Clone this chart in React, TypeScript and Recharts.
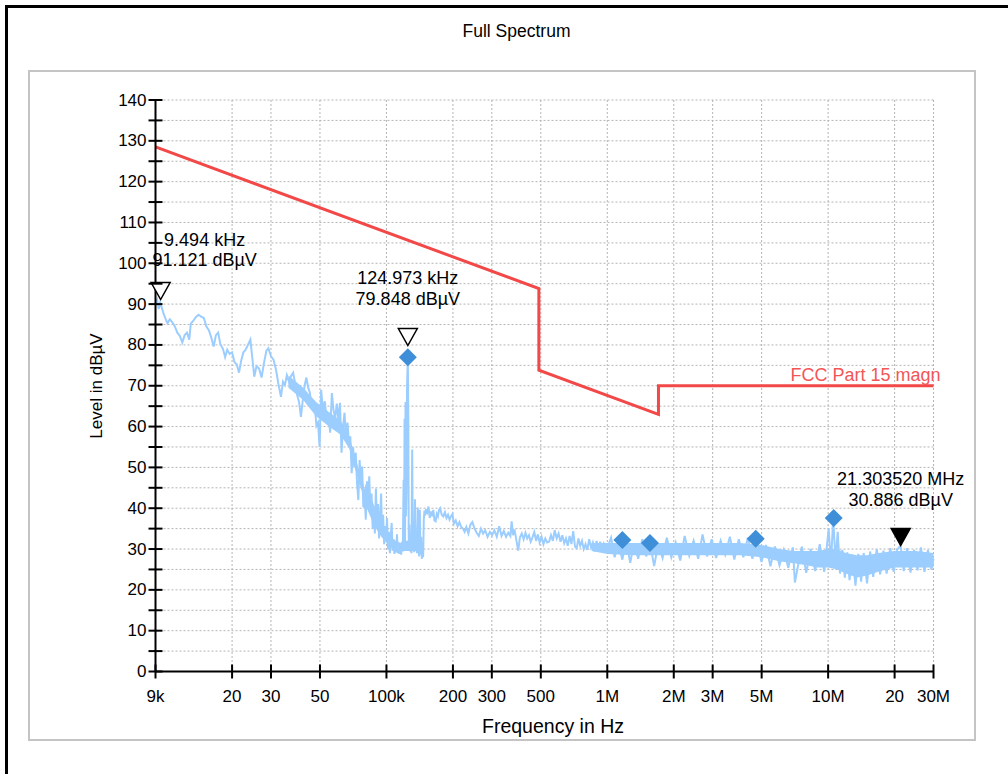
import React from 'react';
import { Area, CartesianGrid, ComposedChart, Line, Scatter, XAxis, YAxis } from 'recharts';

const FONT = '"Liberation Sans", Arial, Helvetica, sans-serif';
const TRACE_BLUE = '#9ccdff';
const LIMIT_RED = '#f24848';
const DIAMOND_BLUE = '#3f8fd8';

// axis ticks (Hz / dBµV)
const X_TICKS = [9e3, 2e4, 3e4, 5e4, 1e5, 2e5, 3e5, 5e5, 1e6, 2e6, 3e6, 5e6, 1e7, 2e7, 3e7];
const X_TICK_LABELS = ['9k', '20', '30', '50', '100k', '200', '300', '500', '1M', '2M', '3M', '5M', '10M', '20', '30M'];
const Y_TICKS = [0, 5, 10, 15, 20, 25, 30, 35, 40, 45, 50, 55, 60, 65, 70, 75, 80, 85, 90, 95, 100, 105, 110, 115, 120, 125, 130, 135, 140];

// FCC Part 15 limit line (kHz / dBµV)
const limitKHz = [9, 490, 490, 1705, 1705, 30000];
const limitLevel = [128.5, 93.8, 73.8, 63.0, 70.0, 70.0];

const traceKHz = [
  9.0, 9.15, 9.3, 9.45, 9.6, 9.8, 10.0, 10.2, 10.45, 10.7, 11.0, 11.3, 11.6, 11.9, 12.2, 12.5, 12.8, 13.0, 13.3, 13.7,
  14.1, 14.5, 14.9, 15.3, 15.7, 16.1, 16.5, 16.9, 17.3, 17.7, 18.2, 18.6, 19.0, 19.5, 20.0, 20.5, 21.0, 21.5, 22.0, 22.5,
  23.0, 23.6, 24.2, 24.7, 25.2, 25.8, 26.5, 27.2, 27.9, 28.6, 29.2, 30.0, 30.8, 31.6, 32.4, 33.3, 34.0, 34.7, 35.4, 36.2,
  37.0, 37.8, 38.6, 39.4, 40.2, 41.0, 41.8, 42.6, 43.4, 44.2, 45.0, 45.8, 46.6, 47.4, 48.2, 49.0, 49.8, 50.6, 51.6, 52.6,
  53.6, 54.6, 55.6, 56.6, 57.6, 58.6, 59.6, 60.6, 61.6, 62.6, 63.6, 64.6, 65.6, 66.6, 67.6, 68.6, 69.6, 70.6, 71.6, 72.6,
  73.6, 74.6, 75.6, 76.6, 77.6, 78.6, 79.6, 80.6, 81.6, 82.6, 83.6, 84.6, 85.6, 86.6, 87.6, 88.6, 89.6, 90.6, 91.6, 92.6,
  93.6, 94.6, 95.6, 96.6, 97.6, 98.6, 99.6, 100.6, 101.6, 102.6, 103.6, 104.6, 105.6, 106.6, 107.6, 108.6, 109.6, 110.6, 111.6, 112.6,
  113.6, 114.6, 115.6, 116.6, 117.6, 118.6, 119.6, 120.2, 120.8, 121.4, 122.0, 122.6, 123.2, 124.0, 124.97, 125.6, 126.2, 127.0, 127.8, 128.8,
  129.8, 130.8, 131.6, 132.6, 133.6, 134.6, 135.6, 136.6, 137.6, 138.6, 139.6, 140.6, 141.6, 142.6, 143.6, 144.6, 145.6, 146.6, 147.6, 148.6,
  149.6, 151, 153, 155, 157, 159, 161, 163, 165, 167, 169, 171, 173, 175, 178, 181, 184, 187, 190, 193,
  196, 199, 202, 206, 210, 214, 218, 222, 226, 230, 235, 240, 245, 250, 256, 262, 268, 274, 280, 287,
  294, 301, 308, 316, 324, 332, 340, 348, 356, 364, 369, 374, 380, 388, 395, 402, 410, 418, 426, 434,
  442, 450, 458, 467, 476, 485, 494, 504, 514, 524, 534, 545, 556, 567, 578, 590, 602, 614, 626, 638,
  650, 662, 675, 688, 701, 714, 727, 740, 754, 768, 782, 797, 812, 828, 844, 860, 877, 894, 911, 929,
  947, 965, 1000, 1040, 1080, 1120, 1170, 1220, 1270, 1320, 1380, 1440, 1500, 1560, 1630, 1700, 1780, 1860, 1950, 2040,
  2140, 2240, 2350, 2460, 2580, 2700, 2830, 2970, 3110, 3260, 3420, 3590, 3760, 3940, 4130, 4330, 4540, 4760, 4990, 5230,
  5480, 5740, 6020, 6300, 6600, 6920, 7070, 7250, 7600, 7960, 8340, 8740, 9160, 9600, 10060, 10300, 10540, 10800, 11050, 11320,
  11600, 11900, 12200, 12500, 12900, 13300, 13700, 14100, 14500, 15000, 15500, 16000, 16600, 17200, 17800, 18400, 19100, 19800, 20500, 21300,
  22000, 22800, 23600, 24500, 25400, 26300, 27300, 28300, 29300, 30000,
];
const traceLevel = [
  90.2, 91.1, 88.8, 90.4, 89.2, 87.6, 86.4, 85.3, 86.3, 85.6, 84.6, 83.0, 82.2, 80.6, 82.4, 83.0, 81.3, 85.2, 85.8, 86.8,
  87.4, 86.9, 86.6, 84.5, 83.6, 81.8, 79.6, 82.4, 83.0, 80.2, 79.0, 77.0, 78.8, 77.8, 78.2, 75.8, 75.2, 73.2, 76.2, 78.2,
  78.8, 80.0, 81.3, 76.8, 72.2, 74.8, 74.2, 72.0, 75.6, 78.6, 79.2, 77.2, 76.4, 74.0, 70.5, 67.3, 71.0, 70.2, 72.6, 71.0,
  72.4, 73.2, 70.5, 67.8, 66.0, 62.4, 66.5, 70.0, 72.0, 69.6, 68.3, 64.6, 66.4, 64.8, 60.2, 61.0, 55.0, 69.0, 64.0, 66.2,
  61.5, 63.4, 58.5, 68.2, 64.0, 62.0, 65.6, 61.6, 65.8, 53.6, 60.0, 63.4, 57.0, 61.0, 56.2, 57.6, 48.6, 55.0, 50.0, 53.6,
  46.0, 42.0, 51.8, 46.5, 50.2, 40.2, 44.0, 37.2, 46.6, 42.0, 47.8, 39.0, 43.6, 35.0, 40.4, 33.8, 44.8, 36.0, 41.0, 32.6,
  37.8, 43.6, 33.0, 38.4, 31.2, 35.6, 32.2, 37.6, 30.0, 34.2, 29.0, 33.0, 36.4, 29.6, 32.4, 28.8, 31.8, 29.2, 33.6, 29.0,
  31.2, 28.8, 30.6, 28.6, 31.8, 29.4, 47.0, 30.0, 62.0, 31.0, 66.0, 38.0, 44.0, 70.0, 77.0, 62.0, 30.0, 36.0, 29.4, 32.0,
  29.0, 54.4, 30.2, 34.0, 29.2, 42.2, 29.6, 34.4, 29.0, 40.2, 30.4, 28.2, 39.6, 28.6, 33.0, 27.6, 31.0, 28.0, 37.2, 39.4,
  38.2, 39.8, 39.0, 40.4, 37.6, 39.2, 38.0, 39.6, 37.0, 36.8, 38.6, 38.0, 39.6, 40.0, 38.4, 38.0, 39.0, 37.6, 38.4, 37.2,
  38.0, 38.6, 36.2, 37.0, 35.6, 36.6, 35.4, 35.0, 34.2, 35.4, 33.8, 36.0, 36.6, 35.2, 34.0, 33.2, 35.0, 33.8, 34.6, 33.0,
  34.2, 33.4, 34.6, 33.0, 35.6, 33.2, 34.4, 33.0, 34.0, 33.2, 36.8, 33.4, 34.8, 32.0, 29.6, 32.8, 33.8, 32.4, 34.0, 32.6,
  33.4, 31.8, 32.8, 34.2, 32.0, 33.6, 31.6, 33.0, 31.2, 32.6, 31.6, 31.8, 33.4, 32.0, 34.6, 32.6, 33.8, 31.8, 33.4, 31.4,
  32.6, 30.8, 33.2, 31.2, 34.4, 30.6, 30.2, 32.6, 30.8, 32.0, 30.0, 31.2, 29.8, 32.4, 30.4, 31.6, 29.4, 32.0, 30.2, 31.8,
  29.6, 31.4, 30.2, 32.8, 28.0, 31.6, 27.4, 32.0, 26.6, 31.4, 27.6, 32.4, 28.2, 31.6, 25.8, 31.2, 27.8, 32.8, 28.0, 31.6,
  27.2, 33.2, 28.4, 32.0, 27.6, 33.6, 28.2, 32.4, 27.8, 32.0, 28.6, 33.0, 27.4, 32.4, 28.0, 32.8, 27.6, 32.0, 26.8, 31.0,
  25.8, 30.6, 26.0, 29.8, 25.4, 30.4, 21.8, 25.0, 30.6, 24.2, 30.0, 24.6, 31.2, 24.4, 35.0, 26.0, 37.8, 27.0, 34.2, 24.0,
  29.8, 23.0, 29.2, 22.4, 28.6, 21.0, 28.8, 22.0, 29.0, 21.6, 29.4, 23.2, 30.0, 23.8, 29.6, 24.0, 30.2, 24.4, 29.8, 30.9,
  24.6, 30.2, 24.2, 29.8, 24.8, 30.4, 24.4, 29.8, 25.0, 27.6,
];

// solid noise envelope where the trace is drawn densely (kHz / dBµV)
const midKHz = [36, 42, 48, 55, 62, 68, 74, 80];
const midLow = [69.5, 66.5, 62.5, 60, 58, 54.5, 47.5, 41.5];
const midHigh = [72.5, 69.5, 66, 63.5, 61.5, 57.5, 50.5, 44.5];

const denseKHz = [80, 86, 92, 98, 104, 110, 116, 122, 128, 134, 140, 146];
const denseLow = [41, 37, 34, 32, 30.5, 30, 29.5, 29.5, 29.5, 29.5, 29.5, 29];
const denseHigh = [46, 42, 38, 35, 33, 32, 31.5, 32, 32, 32, 32, 31.5];

const floorKHz = [850, 1000, 1300, 1700, 2200, 3000, 4000, 5000, 6000, 7000, 8000, 9000, 10000, 11000, 12000, 13500, 15000, 17000, 20000, 25000, 30000];
const floorLow = [29.5, 28.8, 28.5, 28.5, 28.5, 28.5, 28.5, 28, 27, 26.5, 26, 25.5, 25.5, 25, 24, 23, 23.5, 24.5, 25.5, 25.5, 25.5];
const floorHigh = [31.5, 31.5, 31.5, 31.5, 31.5, 31.5, 31.5, 31, 30, 29.5, 29.5, 29.5, 30, 30, 29, 28.5, 28.5, 29, 29.5, 29.5, 29];

// final measurement points (diamonds)
const finalKHz = [124.97, 1170, 1560, 4700, 10600];
const finalLevel = [77.0, 32.2, 31.5, 32.5, 37.6];

// markers
const markerKHz = [9.494, 124.973, 21303.52];
const markerLevel = [91.121, 79.848, 30.886];

// marker look & label placement (px)
const MARKER_STYLE = [
  { filled: false, dx: 44, dy1: -60, dy2: -40 },
  { filled: false, dx: 0, dy1: -68, dy2: -47 },
  { filled: true, dx: 0, dy1: -66, dy2: -45 },
];

const toRows = (khz: number[], lvl: number[]) => khz.map((k, i) => ({ f: k * 1000, v: lvl[i], i }));
const toBand = (khz: number[], lo: number[], hi: number[]) => khz.map((k, i) => ({ f: k * 1000, band: [lo[i], hi[i]] }));

const limitRows = toRows(limitKHz, limitLevel);
const traceRows = toRows(traceKHz, traceLevel);
const midRows = toBand(midKHz, midLow, midHigh);
const denseRows = toBand(denseKHz, denseLow, denseHigh);
const floorRows = toBand(floorKHz, floorLow, floorHigh);
const finalRows = toRows(finalKHz, finalLevel);
const markerRows = toRows(markerKHz, markerLevel);

const fmtFreq = (khz: number) => (khz >= 1000 ? `${(khz / 1000).toFixed(6)} MHz` : `${khz.toFixed(3)} kHz`);

const YTick = (props: any) => {
  const { x, y, payload } = props;
  const v = payload.value;
  return (
    <g>
      <line x1={x - 7} x2={x + 7} y1={y} y2={y} stroke="#000" strokeWidth={2} />
      {v % 10 === 0 && (
        <text x={x - 9} y={y} textAnchor="end" dominantBaseline="central" fontSize={17} fontFamily={FONT} fill="#000">
          {v}
        </text>
      )}
    </g>
  );
};

const XTick = (props: any) => {
  const { x, y, payload } = props;
  const label = X_TICK_LABELS[X_TICKS.indexOf(payload.value)];
  return (
    <g>
      <line x1={x} x2={x} y1={y - 7} y2={y + 7} stroke="#000" strokeWidth={2} />
      <text x={x} y={y + 25} textAnchor="middle" dominantBaseline="central" fontSize={17} fontFamily={FONT} fill="#000">
        {label}
      </text>
    </g>
  );
};

const Diamond = (props: any) => {
  const { cx, cy } = props;
  const r = 9;
  return <polygon points={`${cx},${cy - r} ${cx + r},${cy} ${cx},${cy + r} ${cx - r},${cy}`} fill={DIAMOND_BLUE} />;
};

const Marker = (props: any) => {
  const { cx, cy, payload } = props;
  const st = MARKER_STYLE[payload.i];
  const w = 9.5;
  const h = 17;
  return (
    <g>
      <polygon
        points={`${cx - w},${cy - h} ${cx + w},${cy - h} ${cx},${cy}`}
        fill={st.filled ? '#000' : '#fff'}
        stroke="#000"
        strokeWidth={1.5}
      />
      <text x={cx + st.dx} y={cy + st.dy1} textAnchor="middle" dominantBaseline="central" fontSize={18} fontFamily={FONT} fill="#000">
        {fmtFreq(markerKHz[payload.i])}
      </text>
      <text x={cx + st.dx} y={cy + st.dy2} textAnchor="middle" dominantBaseline="central" fontSize={18} fontFamily={FONT} fill="#000">
        {`${markerLevel[payload.i].toFixed(3)} dBµV`}
      </text>
    </g>
  );
};

const LimitLabel = (props: any) => {
  const { x, y, index } = props;
  if (index !== limitRows.length - 1) return null;
  return (
    <text x={x + 7} y={y - 5} textAnchor="end" fontSize={18} fontFamily={FONT} fill="#f25656">
      FCC Part 15 magn
    </text>
  );
};

export default function App() {
  return (
    <div style={{ position: 'absolute', left: 0, top: 0, width: 1008, height: 774, overflow: 'hidden', background: '#fff', fontFamily: FONT }}>
      <div style={{ position: 'absolute', left: 5, top: 5, width: 1100, height: 900, border: '3px solid #000' }} />
      <div style={{ position: 'absolute', left: 28, top: 70, width: 944, height: 667, border: '2px solid #c4c4c4' }} />
      <div style={{ position: 'absolute', left: 0, top: 20, width: 1033, textAlign: 'center', fontSize: 17.5, lineHeight: '22px' }}>
        Full Spectrum
      </div>
      <div
        style={{
          position: 'absolute',
          left: 97 - 70,
          top: 386 - 11,
          width: 140,
          height: 22,
          lineHeight: '22px',
          textAlign: 'center',
          fontSize: 17,
          transform: 'rotate(-90deg)',
        }}
      >
        Level in dBµV
      </div>
      <div style={{ position: 'absolute', left: 553 - 150, top: 714, width: 300, textAlign: 'center', fontSize: 19.5, lineHeight: '24px' }}>
        Frequency in Hz
      </div>
      <div style={{ position: 'absolute', left: 0, top: 0 }}>
        <ComposedChart width={1008} height={774} margin={{ top: 100, right: 74.5, bottom: 72.5, left: 95.5 }}>
          <CartesianGrid stroke="#b4b4b4" strokeDasharray="2 2" />
          <XAxis
            dataKey="f"
            type="number"
            scale="log"
            domain={[9e3, 3e7]}
            ticks={X_TICKS}
            interval={0}
            height={30}
            tickSize={0}
            tickMargin={0}
            tickLine={false}
            tick={<XTick />}
            axisLine={{ stroke: '#000', strokeWidth: 2 }}
          />
          <YAxis
            type="number"
            domain={[0, 140]}
            ticks={Y_TICKS}
            interval={0}
            width={60}
            tickSize={0}
            tickMargin={0}
            tickLine={false}
            tick={<YTick />}
            axisLine={{ stroke: '#000', strokeWidth: 2 }}
          />
          <Area data={midRows} dataKey="band" fill={TRACE_BLUE} fillOpacity={1} stroke="none" isAnimationActive={false} />
          <Area data={denseRows} dataKey="band" fill={TRACE_BLUE} fillOpacity={1} stroke="none" isAnimationActive={false} />
          <Area data={floorRows} dataKey="band" fill={TRACE_BLUE} fillOpacity={1} stroke="none" isAnimationActive={false} />
          <Line data={traceRows} dataKey="v" stroke={TRACE_BLUE} strokeWidth={2} dot={false} isAnimationActive={false} />
          <Line
            data={limitRows}
            dataKey="v"
            stroke={LIMIT_RED}
            strokeWidth={3}
            dot={false}
            label={<LimitLabel />}
            isAnimationActive={false}
          />
          <Scatter data={finalRows} dataKey="v" shape={<Diamond />} isAnimationActive={false} />
          <Scatter data={markerRows} dataKey="v" shape={<Marker />} isAnimationActive={false} />
        </ComposedChart>
      </div>
    </div>
  );
}
